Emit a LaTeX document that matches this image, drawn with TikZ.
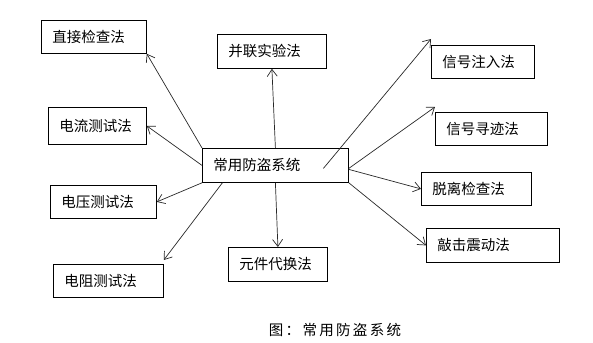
\documentclass[tikz,border=0pt]{standalone}
\usepackage{fontspec}
\usepackage{tikz}
\usetikzlibrary{arrows.meta}
\newfontfamily\cjk{Noto Sans CJK SC}
\definecolor{LineGray}{RGB}{40,40,40}

\begin{document}
\begin{tikzpicture}[
    x=1pt, y=-1pt,
    mbox/.style={draw=black, line width=0.8pt, anchor=north west,
                 inner xsep=11pt, inner ysep=0pt, align=left,
                 minimum height=33pt, font=\cjk\fontsize{14.5}{16}\selectfont},
    arr/.style={-{Straight Barb[length=7pt,width=10pt]}, LineGray, line width=0.7pt}
  ]
    \useasboundingbox (0,0) rectangle (593,342);
    % Centre
    \node[mbox, text width=124pt, minimum height=34pt] (sys) at (202,148) {常用防盗系统};
    % Left
    \node[mbox, text width=83pt] (zhijie) at (41,20) {直接检查法};
    \node[mbox, text width=76pt, minimum height=37pt] (dianliu) at (48,107) {电流测试法};
    \node[mbox, text width=84pt] (dianya) at (50,185) {电压测试法};
    \node[mbox, text width=88pt] (dianzu) at (53,264) {电阻测试法};
    % Middle
    \node[mbox, text width=87pt, minimum height=34pt] (binglian) at (217,34) {并联实验法};
    \node[mbox, text width=77pt, minimum height=34pt] (yuanjian) at (228,247) {元件代换法};
    % Right
    \node[mbox, text width=81pt] (zhuru) at (431,45) {信号注入法};
    \node[mbox, text width=90pt] (xunji) at (435,112) {信号寻迹法};
    \node[mbox, text width=88pt] (tuoli) at (421,172) {脱离检查法};
    \node[mbox, text width=111pt, minimum height=34pt] (qiaoji) at (426,228) {敲击震动法};
    % Arrows
    \draw[arr] (sys.north west) -- (zhijie.south east);
    \draw[arr] (sys.west) -- (dianliu.east);
    \draw[arr] (sys.south west) -- (dianya.east);
    \draw[arr] ([xshift=-53pt]sys.south) -- ([yshift=4pt]dianzu.north east);
    \draw[arr] (sys.north) -- (binglian.south);
    \draw[arr] (sys.south) -- (yuanjian.north);
    \draw[arr] ([xshift=48pt,yshift=-3pt]sys.center) -- ([yshift=6pt]zhuru.north west);
    \draw[arr] ([yshift=-3pt]sys.east) -- ([yshift=5pt]xunji.north west);
    \draw[arr] ([yshift=-4pt]sys.east) -- (tuoli.west);
    \draw[arr] (sys.south east) -- (qiaoji.west);
    % Caption
    \node[font=\cjk\fontsize{14.5}{16}\selectfont\addfontfeature{LetterSpace=16}] (cap) at (335,330) {图：常用防盗系统};
\end{tikzpicture}
\end{document}
